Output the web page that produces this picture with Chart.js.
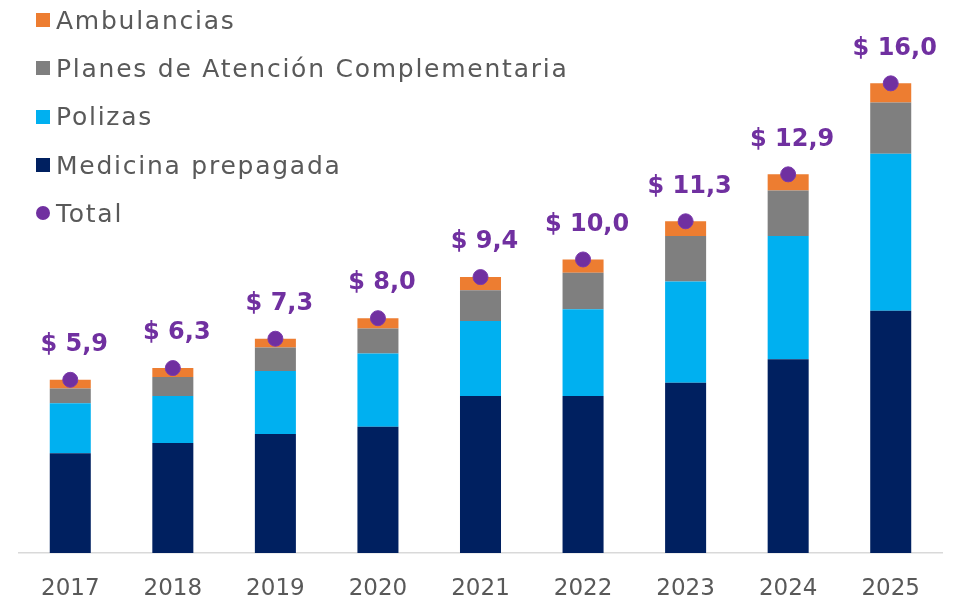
<!doctype html>
<html lang="es">
  <head>
    <meta charset="utf-8">
    <title>Mercado de salud por segmento</title>
    <style>
      * { margin: 0; padding: 0; }
      body { background: #fff; width: 953px; height: 605px; overflow: hidden; }
      .chartBox { position: relative; width: 953px; height: 605px; }
      #legend {
        position: absolute; left: 36px; top: -4px;
        font-family: "DejaVu Sans", sans-serif; font-size: 25px; color: #595959;
        letter-spacing: 1.75px;
        list-style: none;
      }
      #legend li { height: 48.3px; display: flex; align-items: center; white-space: nowrap; }
      #legend span.box { width: 14px; height: 14px; margin-right: 6px; display: inline-block; flex: none; }
    </style>
  </head>
  <body>
    <div class="chartBox">
      <canvas id="myChart" width="953" height="605"></canvas>
      <ul id="legend"></ul>
    </div>
    <script src="https://cdn.jsdelivr.net/npm/chart.js"></script>
    <script>
    // data
    const years = ['2017', '2018', '2019', '2020', '2021', '2022', '2023', '2024', '2025'];
    const medicina = [3.4, 3.75, 4.05, 4.3, 5.35, 5.35, 5.8, 6.6, 8.25];
    const polizas = [1.7, 1.6, 2.15, 2.5, 2.55, 2.95, 3.45, 4.2, 5.35];
    const planes = [0.5, 0.65, 0.8, 0.85, 1.05, 1.25, 1.55, 1.55, 1.75];
    const ambulancias = [0.3, 0.3, 0.3, 0.35, 0.45, 0.45, 0.5, 0.55, 0.65];
    const totals = [5.9, 6.3, 7.3, 8.0, 9.4, 10.0, 11.3, 12.9, 16.0];

    const purple = '#7030a0';

    // labels "$ 5,9" above the total points
    const totalLabels = {
      id: 'totalLabels',
      afterDatasetsDraw(chart) {
        const ctx = chart.ctx;
        const meta = chart.getDatasetMeta(0);
        ctx.save();
        ctx.font = 'bold 24px "DejaVu Sans", sans-serif';
        ctx.fillStyle = purple;
        ctx.textAlign = 'center';
        ctx.textBaseline = 'middle';
        meta.data.forEach((pt, i) => {
          const txt = '$ ' + totals[i].toFixed(1).replace('.', ',');
          ctx.fillText(txt, pt.x + 4, pt.y - 35);
        });
        ctx.restore();
      }
    };

    const data = {
      labels: years,
      datasets: [
        {
          type: 'line',
          label: 'Total',
          data: totals,
          showLine: false,
          pointRadius: 7.5,
          pointHoverRadius: 7.5,
          pointBackgroundColor: purple,
          pointBorderColor: '#7a3aad',
          pointBorderWidth: 1,
          backgroundColor: purple,
          stack: 'total',
          order: 0
        },
        { label: 'Medicina prepagada', data: medicina, backgroundColor: '#002060', stack: 's', order: 1 },
        { label: 'Polizas', data: polizas, backgroundColor: '#00b0f0', stack: 's', order: 1 },
        { label: 'Planes de Atención Complementaria', data: planes, backgroundColor: '#7f7f7f', stack: 's', order: 1 },
        { label: 'Ambulancias', data: ambulancias, backgroundColor: '#ed7d31', stack: 's', order: 1 }
      ]
    };

    const config = {
      type: 'bar',
      data,
      options: {
        responsive: false,
        animation: false,
        layout: { padding: { left: 19, right: 11, top: 0, bottom: 6 } },
        datasets: { bar: { barPercentage: 0.4, categoryPercentage: 1.0 } },
        plugins: {
          legend: { display: false },
          tooltip: { enabled: false }
        },
        scales: {
          x: {
            stacked: true,
            grid: { display: false, drawTicks: false },
            border: { color: '#d9d9d9', width: 1.5 },
            ticks: {
              color: '#595959',
              padding: 22,
              maxRotation: 0,
              font: { family: '"DejaVu Sans", sans-serif', size: 23 }
            },
            afterFit(scale) { scale.height = 46; }
          },
          y: {
            stacked: true,
            display: false,
            min: 0,
            max: 18.55
          }
        }
      },
      plugins: [totalLabels]
    };

    const myChart = new Chart(document.getElementById('myChart'), config);

    // vertical legend, top-left, in the order of the reference
    const legendOrder = [4, 3, 2, 1, 0];
    const legendEl = document.getElementById('legend');
    legendOrder.forEach(idx => {
      const ds = myChart.data.datasets[idx];
      const li = document.createElement('li');
      const box = document.createElement('span');
      box.className = 'box';
      box.style.background = ds.backgroundColor;
      if (ds.type === 'line') box.style.borderRadius = '50%';
      li.appendChild(box);
      li.appendChild(document.createTextNode(ds.label));
      legendEl.appendChild(li);
    });
    </script>
  </body>
</html>
